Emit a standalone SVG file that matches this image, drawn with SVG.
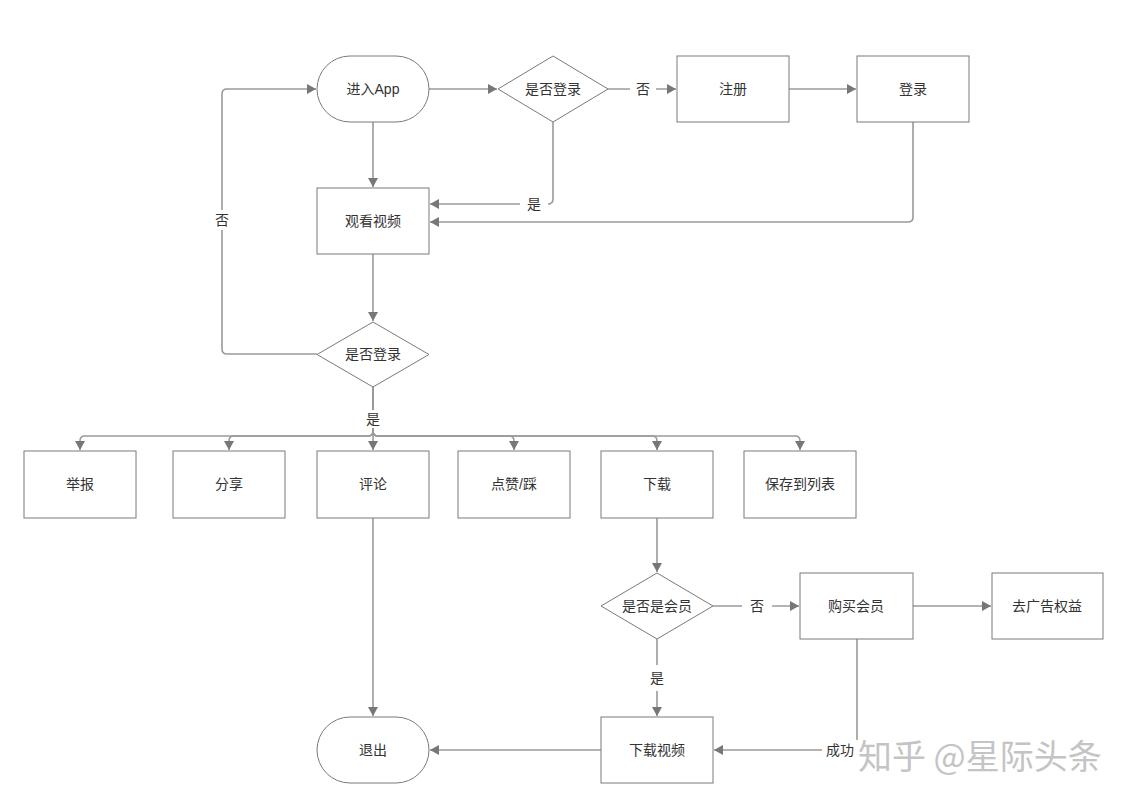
<svg xmlns="http://www.w3.org/2000/svg" width="1131" height="802" viewBox="0 0 1131 802">
<style>
.n{fill:#fff;stroke:#7a7a7a;stroke-width:1}
.t{font-family:"Liberation Sans","Noto Sans CJK SC",sans-serif;font-size:14px;fill:#333;text-anchor:middle;dominant-baseline:central}
.c{fill:none;stroke:#9a9a9a;stroke-width:1.6}
.lb{fill:#fff}
.wm{font-family:"Noto Sans CJK SC",sans-serif;font-size:34px;fill:#c4c4c4;dominant-baseline:central}
</style>
<defs>
<marker id="a" markerUnits="userSpaceOnUse" markerWidth="10" markerHeight="10" refX="9" refY="5" orient="auto">
<path d="M0,0 L9,5 L0,10 z" fill="#777"/>
</marker>
</defs>
<rect width="1131" height="802" fill="#fff"/>
<g id="connectors">
<path class="c" d="M429,89 H497" marker-end="url(#a)"/>
<path class="c" d="M608,89 H676" marker-end="url(#a)"/>
<path class="c" d="M789,89 H856" marker-end="url(#a)"/>
<path class="c" d="M373,122 V187" marker-end="url(#a)"/>
<path class="c" d="M553,122 V199 Q553,204 548,204 H430" marker-end="url(#a)"/>
<path class="c" d="M913,122 V217 Q913,222 908,222 H430" marker-end="url(#a)"/>
<path class="c" d="M373,254 V321" marker-end="url(#a)"/>
<path class="c" d="M317,354 H227 Q222,354 222,349 V94 Q222,89 227,89 H316" marker-end="url(#a)"/>
<path class="c" d="M373,387 V431 Q373,436 368,436 H85 Q80,436 80,441 V450" marker-end="url(#a)"/>
<path class="c" d="M373,387 V431 Q373,436 368,436 H234 Q229,436 229,441 V450" marker-end="url(#a)"/>
<path class="c" d="M373,387 V450" marker-end="url(#a)"/>
<path class="c" d="M373,387 V431 Q373,436 378,436 H509 Q514,436 514,441 V450" marker-end="url(#a)"/>
<path class="c" d="M373,387 V431 Q373,436 378,436 H652 Q657,436 657,441 V450" marker-end="url(#a)"/>
<path class="c" d="M373,387 V431 Q373,436 378,436 H795 Q800,436 800,441 V450" marker-end="url(#a)"/>
<path class="c" d="M373,518 V716" marker-end="url(#a)"/>
<path class="c" d="M657,518 V572" marker-end="url(#a)"/>
<path class="c" d="M713,606 H799" marker-end="url(#a)"/>
<path class="c" d="M913,606 H991" marker-end="url(#a)"/>
<path class="c" d="M657,639 V716" marker-end="url(#a)"/>
<path class="c" d="M857,639 V745 Q857,750 852,750 H714" marker-end="url(#a)"/>
<path class="c" d="M601,750 H430" marker-end="url(#a)"/>
<rect class="lb" x="630" y="80" width="26" height="18"/>
<text class="t" x="643" y="89">否</text>
<rect class="lb" x="520" y="194" width="28" height="20"/>
<text class="t" x="534" y="204">是</text>
<rect class="lb" x="212" y="210" width="20" height="20"/>
<text class="t" x="222" y="220">否</text>
<rect class="lb" x="364" y="410" width="18" height="18"/>
<text class="t" x="373" y="419">是</text>
<rect class="lb" x="742" y="597" width="30" height="18"/>
<text class="t" x="757" y="606">否</text>
<rect class="lb" x="648" y="665" width="18" height="26"/>
<text class="t" x="657" y="678">是</text>
<rect class="lb" x="822" y="740" width="36" height="20"/>
<text class="t" x="840" y="750">成功</text>
</g>
<g id="n-enter"><rect class="n" x="317" y="56" width="112" height="66" rx="33"/><text class="t" x="373" y="89">进入App</text></g>
<g id="n-login-check1"><path class="n" d="M553,56 L608,89 L553,122 L498,89 Z"/><text class="t" x="553" y="89">是否登录</text></g>
<g id="n-register"><rect class="n" x="677" y="56" width="112" height="66"/><text class="t" x="733" y="89">注册</text></g>
<g id="n-login"><rect class="n" x="857" y="56" width="112" height="66"/><text class="t" x="913" y="89">登录</text></g>
<g id="n-watch"><rect class="n" x="317" y="188" width="112" height="66"/><text class="t" x="373" y="221">观看视频</text></g>
<g id="n-login-check2"><path class="n" d="M373,322 L429,354.5 L373,387 L317,354.5 Z"/><text class="t" x="373" y="354">是否登录</text></g>
<g id="n-report"><rect class="n" x="24" y="451" width="112" height="67"/><text class="t" x="80" y="484">举报</text></g>
<g id="n-share"><rect class="n" x="173" y="451" width="112" height="67"/><text class="t" x="229" y="484">分享</text></g>
<g id="n-comment"><rect class="n" x="317" y="451" width="112" height="67"/><text class="t" x="373" y="484">评论</text></g>
<g id="n-like"><rect class="n" x="458" y="451" width="112" height="67"/><text class="t" x="514" y="484">点赞/踩</text></g>
<g id="n-download"><rect class="n" x="601" y="451" width="112" height="67"/><text class="t" x="657" y="484">下载</text></g>
<g id="n-save"><rect class="n" x="744" y="451" width="112" height="67"/><text class="t" x="800" y="484">保存到列表</text></g>
<g id="n-member-check"><path class="n" d="M657,573 L713,606 L657,639 L601,606 Z"/><text class="t" x="657" y="606">是否是会员</text></g>
<g id="n-buy"><rect class="n" x="800" y="573" width="113" height="66"/><text class="t" x="856" y="606">购买会员</text></g>
<g id="n-noads"><rect class="n" x="992" y="573" width="111" height="66"/><text class="t" x="1047" y="606">去广告权益</text></g>
<g id="n-dlvideo"><rect class="n" x="601" y="717" width="112" height="66"/><text class="t" x="657" y="750">下载视频</text></g>
<g id="n-exit"><rect class="n" x="317" y="717" width="112" height="66" rx="33"/><text class="t" x="373" y="750">退出</text></g>
<text class="wm" x="858" y="754">知乎 @星际头条</text>
</svg>
